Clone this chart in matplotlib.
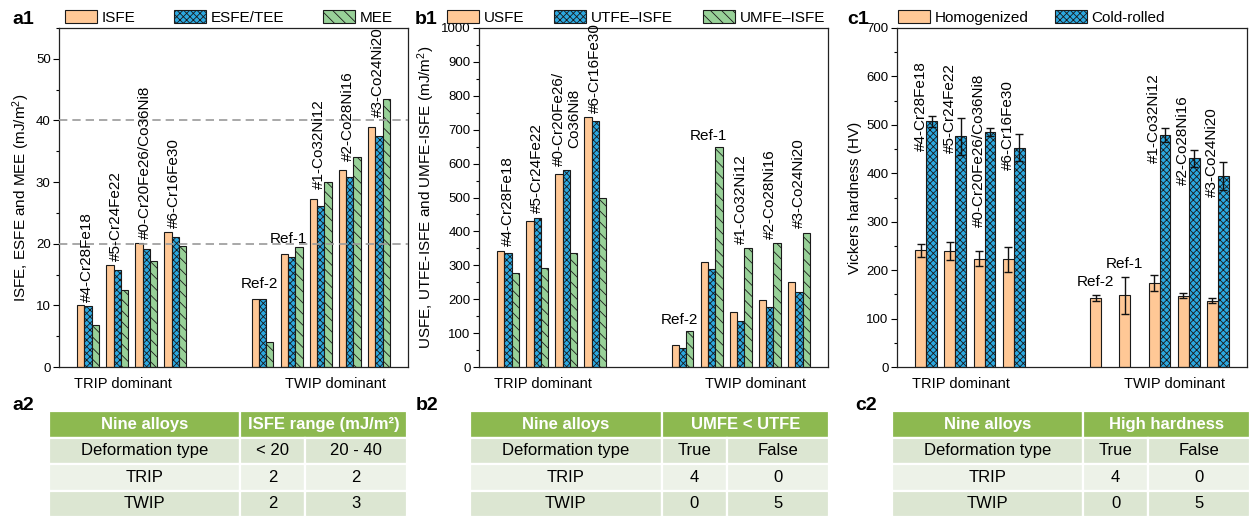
import numpy as np
import matplotlib
matplotlib.use('Agg')
import matplotlib.pyplot as plt
from matplotlib.patches import Rectangle
from matplotlib.ticker import MultipleLocator

plt.rcParams['font.family'] = ['Liberation Sans', 'DejaVu Sans']
plt.rcParams['mathtext.fontset'] = 'custom'
plt.rcParams['mathtext.rm'] = 'Liberation Sans'
plt.rcParams['mathtext.default'] = 'regular'
plt.rcParams['hatch.linewidth'] = 0.6

# ---------------- data ----------------
alloys = ['#4-Cr28Fe18', '#5-Cr24Fe22', '#0-Cr20Fe26/Co36Ni8', '#6-Cr16Fe30',
          'Ref-2', 'Ref-1', '#1-Co32Ni12', '#2-Co28Ni16', '#3-Co24Ni20']
alloys_b = ['#4-Cr28Fe18', '#5-Cr24Fe22', '#0-Cr20Fe26/\nCo36Ni8', '#6-Cr16Fe30',
            'Ref-2', 'Ref-1', '#1-Co32Ni12', '#2-Co28Ni16', '#3-Co24Ni20']
group_pos = [1, 2, 3, 4, 7, 8, 9, 10, 11]
category_labels = ['TRIP dominant', 'TWIP dominant']
category_pos = [2.2, 9.5]

isfe = [10.0, 16.6, 20.1, 21.9, 11.0, 18.3, 27.3, 31.9, 38.9]
esfe = [9.9, 15.8, 19.2, 21.1, 11.0, 17.8, 26.2, 30.8, 37.4]
mee = [6.8, 12.5, 17.2, 19.7, 4.0, 19.5, 30.0, 34.1, 43.5]

usfe = [343, 431, 569, 736, 66, 310, 163, 198, 251]
utfe_isfe = [336, 441, 580, 725, 57, 288, 136, 176, 222]
umfe_isfe = [276, 292, 335, 500, 106, 648, 350, 365, 396]

hv_hom = [241, 239, 224, 222, 143, 148, 173, 147, 137]
hv_hom_err = [13, 19, 16, 25, 6, 38, 17, 5, 5]
hv_cr = [507, 476, 485, 453, np.nan, np.nan, 479, 431, 395]
hv_cr_err = [12, 39, 9, 28, np.nan, np.nan, 15, 18, 29]

tab_a_header = ['Nine alloys', 'ISFE range (mJ/m²)']
tab_a_rows = [['Deformation type', '< 20', '20 - 40'],
              ['TRIP', '2', '2'],
              ['TWIP', '2', '3']]
tab_b_header = ['Nine alloys', 'UMFE < UTFE']
tab_b_rows = [['Deformation type', 'True', 'False'],
              ['TRIP', '4', '0'],
              ['TWIP', '0', '5']]
tab_c_header = ['Nine alloys', 'High hardness']
tab_c_rows = [['Deformation type', 'True', 'False'],
              ['TRIP', '4', '0'],
              ['TWIP', '0', '5']]

# ---------------- styles ----------------
ORANGE = '#FFC896'
BLUE = '#2BA8E0'
GREEN = '#98D198'
HEAD = '#8DB950'
ROW_DARK = '#DCE6D2'
ROW_LIGHT = '#EDF2E8'
EDGE = '#1a1a1a'
HATCH_X = 'xxxxx'
HATCH_D = '\\\\\\'
FS = 11

W, H = 1250, 520
fig = plt.figure(figsize=(W / 100, H / 100), dpi=100)


def px_axes(l, t, r, b):
    return fig.add_axes([l / W, 1 - b / H, (r - l) / W, (b - t) / H])


def style_axes(ax, ymax, major, minor, ylabel):
    ax.set_xlim(0, 12)
    ax.set_ylim(0, ymax)
    ax.yaxis.set_major_locator(MultipleLocator(major))
    ax.yaxis.set_minor_locator(MultipleLocator(minor))
    ax.tick_params(axis='y', which='major', direction='out', length=4, width=0.8,
                   labelsize=9.5, pad=2)
    ax.tick_params(axis='y', which='minor', direction='out', length=2, width=0.8)
    ax.set_xticks(category_pos)
    ax.set_xticklabels(category_labels, fontsize=10.5)
    ax.tick_params(axis='x', length=0, pad=7)
    ax.set_ylabel(ylabel, fontsize=11, labelpad=3)
    for s in ax.spines.values():
        s.set_linewidth(0.9)
        s.set_color('#222222')


x = np.array(group_pos, float)
bar_kw = dict(edgecolor=EDGE, linewidth=0.8, zorder=2)

# ---------------- a1 ----------------
ax_a = px_axes(59, 28, 408, 367)
bw = 0.25
ax_a.bar(x - bw, isfe, bw, color=ORANGE, label='ISFE', **bar_kw)
ax_a.bar(x, esfe, bw, color=BLUE, hatch=HATCH_X, label='ESFE/TEE', **bar_kw)
ax_a.bar(x + bw, mee, bw, color=GREEN, hatch=HATCH_D, label='MEE', **bar_kw)
for yv in (20, 40):
    ax_a.axhline(yv, color='#9a9a9a', lw=1.2, ls=(0, (5, 3)), zorder=3)
style_axes(ax_a, 55, 10, 5, 'ISFE, ESFE and MEE (mJ/m$^2$)')
for xi, name, a, b in zip(x, alloys, isfe, esfe):
    top = max(a, b)
    if name.startswith('Ref'):
        ax_a.text(xi - 0.1, top + 1.3, name, ha='center', va='bottom', fontsize=FS)
    else:
        off = 0.6 if xi < 5 else 1.6
        ax_a.text(xi - 0.05, top + off, name, rotation=90, ha='center', va='bottom',
                  fontsize=FS)
ax_a.legend(loc='lower left', bbox_to_anchor=(0.017, 1.01, 0.94, 0.05), mode='expand',
            ncol=3, frameon=False, borderaxespad=0, borderpad=0, handletextpad=0.3,
            handlelength=2.1, handleheight=1.0, fontsize=FS)

# ---------------- b1 ----------------
ax_b = px_axes(479, 28, 828, 367)
ax_b.bar(x - bw, usfe, bw, color=ORANGE, label='USFE', **bar_kw)
ax_b.bar(x, utfe_isfe, bw, color=BLUE, hatch=HATCH_X, label='UTFE\u2013ISFE', **bar_kw)
ax_b.bar(x + bw, umfe_isfe, bw, color=GREEN, hatch=HATCH_D, label='UMFE\u2013ISFE', **bar_kw)
style_axes(ax_b, 1000, 100, 50, 'USFE, UTFE-ISFE and UMFE-ISFE (mJ/m$^2$)')
for xi, name, a, b, c in zip(x, alloys_b, usfe, utfe_isfe, umfe_isfe):
    top = max(a, b, c)
    if name.startswith('Ref'):
        ax_b.text(xi - 0.1, top + 12, name, ha='center', va='bottom', fontsize=FS)
    else:
        ax_b.text(xi, top + 14, name, rotation=90, ha='center', va='bottom',
                  fontsize=FS, multialignment='center', linespacing=1.1)
ax_b.legend(loc='lower left', bbox_to_anchor=(-0.092, 1.01, 1.083, 0.05), mode='expand',
            ncol=3, frameon=False, borderaxespad=0, borderpad=0, handletextpad=0.3,
            handlelength=2.1, handleheight=1.0, fontsize=FS)

# ---------------- c1 ----------------
ax_c = px_axes(897, 28, 1247, 367)
cw = 0.375
err_kw = dict(ecolor='#111111', elinewidth=1.0, capsize=3, capthick=1.0)
ax_c.bar(x - cw / 2, hv_hom, cw, yerr=hv_hom_err, color=ORANGE, label='Homogenized',
         error_kw=err_kw, **bar_kw)
cr = np.array(hv_cr, float)
cre = np.array(hv_cr_err, float)
ok = ~np.isnan(cr)
ax_c.bar(x[ok] + cw / 2, cr[ok], cw, yerr=cre[ok], color=BLUE, hatch=HATCH_X,
         label='Cold-rolled', error_kw=err_kw, **bar_kw)
style_axes(ax_c, 700, 100, 50, 'Vickers hardness (HV)')
for xi, name, h, he, c, ce in zip(x, alloys, hv_hom, hv_hom_err, cr, cre):
    if name.startswith('Ref'):
        ax_c.text(xi - cw / 2, h + he + 12, name, ha='center', va='bottom', fontsize=FS)
    else:
        ax_c.text(xi - cw / 2, c + ce + 112, name, rotation=90, ha='center', va='top',
                  fontsize=FS)
ax_c.legend(loc='lower left', bbox_to_anchor=(0.003, 1.01), ncol=2, frameon=False,
            borderaxespad=0, borderpad=0, handletextpad=0.3, columnspacing=1.7,
            handlelength=2.1, handleheight=1.0, fontsize=FS)


# ---------------- tables ----------------
def draw_table(l, t, r, b, header, rows):
    ax = px_axes(l, t, r, b)
    ax.set_xlim(0, 1)
    ax.set_ylim(1, 0)
    ax.axis('off')
    edges = [0, 191 / 358, 256 / 358, 1]
    n = 1 + len(rows)
    rh = 1 / n
    cell_kw = dict(ec='white', lw=1.6, clip_on=False)
    hspans = [(edges[0], edges[1]), (edges[1], edges[3])]
    for (x0, x1), txt in zip(hspans, header):
        ax.add_patch(Rectangle((x0, 0), x1 - x0, rh, fc=HEAD, **cell_kw))
        ax.text((x0 + x1) / 2, rh / 2, txt, ha='center', va='center', color='white',
                fontsize=12, fontweight='bold')
    for i, row in enumerate(rows):
        y0 = rh * (i + 1)
        fc = ROW_LIGHT if i % 2 == 1 else ROW_DARK
        for j, txt in enumerate(row):
            ax.add_patch(Rectangle((edges[j], y0), edges[j + 1] - edges[j], rh, fc=fc,
                                   **cell_kw))
            ax.text((edges[j] + edges[j + 1]) / 2, y0 + rh / 2, txt, ha='center',
                    va='center', color='black', fontsize=12)


draw_table(49, 411, 407, 517, tab_a_header, tab_a_rows)
draw_table(470, 411, 829, 517, tab_b_header, tab_b_rows)
draw_table(892, 411, 1250, 517, tab_c_header, tab_c_rows)

# ---------------- panel labels ----------------
for txt, px, py in [('a1', 12, 19), ('b1', 415, 19), ('c1', 847, 19),
                    ('a2', 12, 405), ('b2', 416, 405), ('c2', 855, 405)]:
    fig.text(px / W, 1 - py / H, txt, ha='left', va='center', fontsize=14,
             fontweight='bold')

fig.savefig('out.png', dpi=100, facecolor='white')
